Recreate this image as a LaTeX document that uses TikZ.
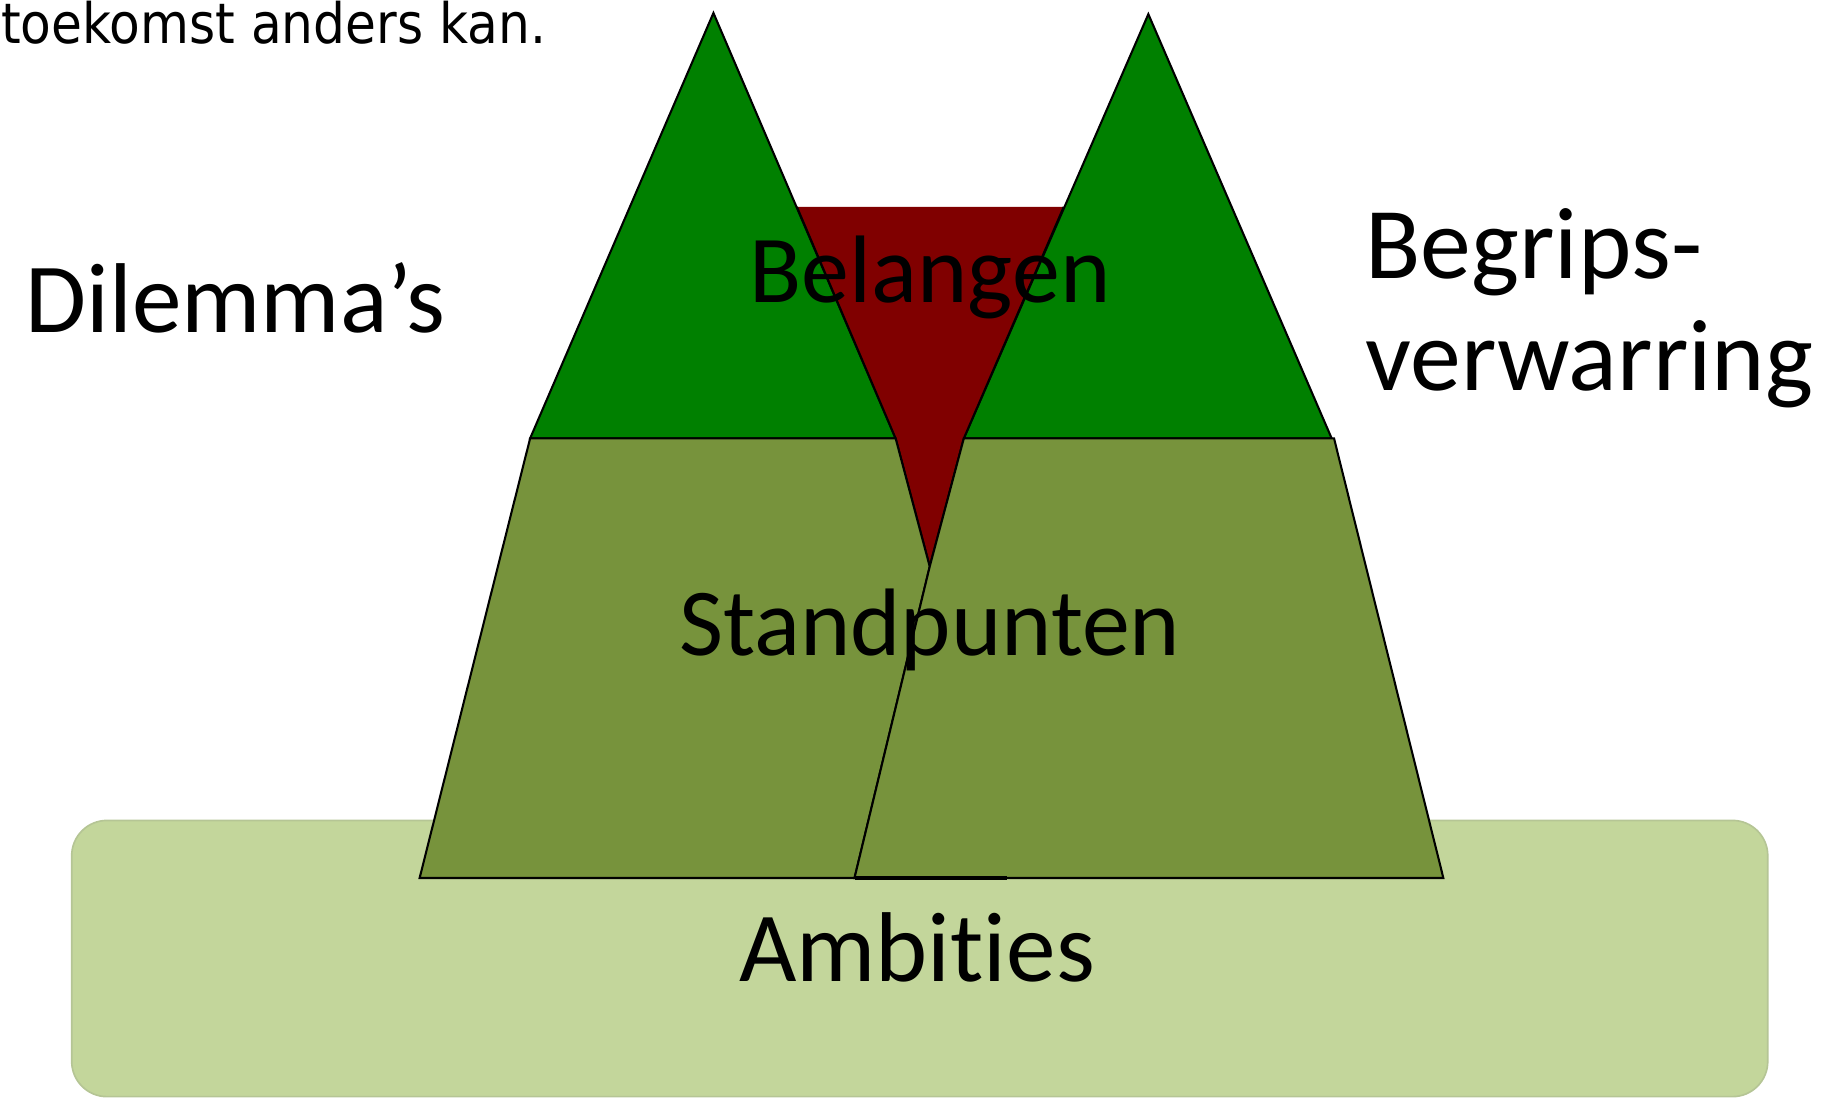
\documentclass[tikz,border=0pt]{standalone}
\usepackage{fontspec}
\setmainfont{Carlito}[Ligatures=NoCommon]
\newfontfamily\topfont{DejaVu Sans}[FakeStretch=0.9]
\usepackage{xcolor}
\usepackage{tikz}
\definecolor{piek}{RGB}{0,128,0}
\definecolor{belang}{RGB}{128,0,0}
\definecolor{standpunt}{RGB}{119,147,60}
\definecolor{ambitie}{RGB}{195,214,155}

\begin{document}
\begin{tikzpicture}[x=0.01cm,y=-0.01cm,line width=0.5pt,
  lbl/.style={anchor=base west,inner sep=0pt,font=\fontsize{24}{27}\selectfont}]
\useasboundingbox (0,0) rectangle (1568,935);
% onderlaag
\filldraw[fill=ambitie,draw=ambitie!80!gray,line width=0.4pt,rounded corners=0.3cm] (61,698) rectangle (1504,933);
% pieken
\filldraw[fill=piek] (451,373) -- (607,11) -- (762,373) -- cycle;
\filldraw[fill=piek] (820,373) -- (977,12) -- (1133,373) -- cycle;
% belangen
\fill[belang] (678,176) -- (905,176) -- (820,373) -- (791,482) -- (762,373) -- cycle;
\draw (905,176) -- (820,373) -- (791,482) -- (762,373) -- (678,176);
% standpunten
\filldraw[fill=standpunt] (357,747) -- (451,373) -- (762,373) -- (791,482) -- (727,747) -- cycle;
\filldraw[fill=standpunt] (727,747) -- (791,482) -- (820,373) -- (1135,373) -- (1228,747) -- cycle;
\draw[line width=0.9pt] (727,747) -- (857,747);
% teksten
\node[anchor=base west,inner sep=0pt,font=\topfont\fontsize{13.5}{15}\selectfont] (toekomst) at (0,37) {toekomst anders kan.};
\node[lbl] (dilemmas) at (21,283) {Dilemma’s};
\node[lbl,font=\fontsize{24.6}{27}\selectfont] (begrips) at (1161,237) {Begrips-};
\node[lbl,font=\fontsize{24.6}{27}\selectfont] (verwarring) at (1161,332) {verwarring};
\node[lbl,font=\fontsize{23.2}{27}\selectfont] (belangen) at (637,257) {Belangen};
\node[lbl,font=\fontsize{23.2}{27}\selectfont] (standpunten) at (577,558) {Standpunten};
\node[lbl] (ambities) at (628,835) {Ambities};
\end{tikzpicture}
\end{document}
